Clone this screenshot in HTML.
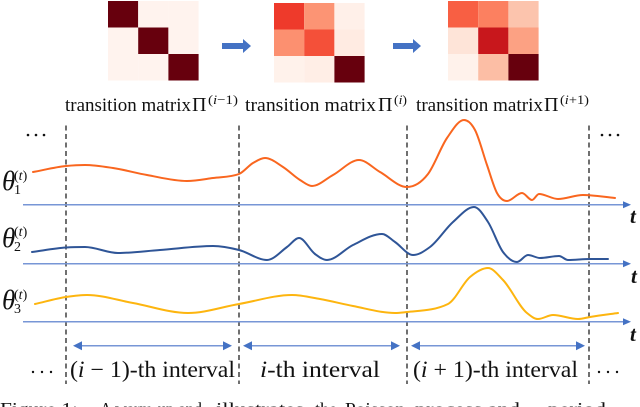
<!DOCTYPE html>
<html lang="en">
<head>
<meta charset="utf-8">
<title>Transition matrices across intervals</title>
<style>
html,body{margin:0;padding:0;background:#fff;}
#figure{display:block;width:640px;height:407px;overflow:hidden;font-family:"Liberation Serif",serif;}
text{font-family:"Liberation Serif",serif;fill:#111;}
</style>
</head>
<body>
<svg id="figure" xmlns="http://www.w3.org/2000/svg" width="640" height="407" viewBox="0 0 640 407">
  <g id="matrices"></g>

  <g fill="#4472c4">
    <polygon points="222,43 243,43 243,39 251,46 243,53 243,49 222,49"/>
    <polygon points="393,43 413,43 413,39 421,46 413,53 413,49 393,49"/>
  </g>

  <g>
    <text x="65" y="111" font-size="19" textLength="126" lengthAdjust="spacingAndGlyphs">transition matrix</text>
    <text x="192" y="111" font-size="20">Π</text>
    <text x="208" y="104" font-size="13" textLength="30" lengthAdjust="spacingAndGlyphs">(<tspan font-style="italic">i</tspan>−1)</text>
    <text x="245" y="111" font-size="19" textLength="131" lengthAdjust="spacingAndGlyphs">transition matrix</text>
    <text x="378" y="111" font-size="20">Π</text>
    <text x="394" y="104" font-size="13" textLength="13" lengthAdjust="spacingAndGlyphs">(<tspan font-style="italic">i</tspan>)</text>
    <text x="416" y="111" font-size="19" textLength="127" lengthAdjust="spacingAndGlyphs">transition matrix</text>
    <text x="544" y="111" font-size="20">Π</text>
    <text x="560" y="104" font-size="13" textLength="29" lengthAdjust="spacingAndGlyphs">(<tspan font-style="italic">i</tspan>+1)</text>
  </g>

  <g id="boundaries"></g>
  <g id="axes"></g>
  <g id="series"></g>
  <g id="spans"></g>

  <g>
    <text x="2" y="190" font-size="27" font-style="italic">θ</text>
    <text x="14" y="194" font-size="14">1</text>
    <text x="14" y="180" font-size="14">(<tspan font-style="italic">t</tspan>)</text>
    <text x="2" y="247" font-size="27" font-style="italic">θ</text>
    <text x="14" y="251" font-size="14">2</text>
    <text x="14" y="236" font-size="14">(<tspan font-style="italic">t</tspan>)</text>
    <text x="2" y="309" font-size="27" font-style="italic">θ</text>
    <text x="14" y="313" font-size="14">3</text>
    <text x="14" y="299" font-size="14">(<tspan font-style="italic">t</tspan>)</text>
  </g>

  <g>
    <text x="630" y="223" font-size="21" font-style="italic" font-weight="bold">t</text>
    <text x="631" y="283" font-size="21" font-style="italic" font-weight="bold">t</text>
    <text x="630" y="341" font-size="21" font-style="italic" font-weight="bold">t</text>
  </g>

  <g>
    <g fill="#111"><circle cx="28" cy="135" r="1.3"/><circle cx="36" cy="135" r="1.3"/><circle cx="44" cy="135" r="1.3"/></g>
    <g fill="#111"><circle cx="602" cy="135" r="1.3"/><circle cx="610" cy="135" r="1.3"/><circle cx="618" cy="135" r="1.3"/></g>
    <g fill="#111"><circle cx="33" cy="372" r="1.2"/><circle cx="42" cy="372" r="1.2"/><circle cx="51" cy="372" r="1.2"/></g>
    <g fill="#111"><circle cx="599" cy="372" r="1.2"/><circle cx="608" cy="372" r="1.2"/><circle cx="617" cy="372" r="1.2"/></g>
  </g>

  <g>
    <text x="70" y="377" font-size="23" textLength="165" lengthAdjust="spacingAndGlyphs">(<tspan font-style="italic">i</tspan> − 1)-th interval</text>
    <text x="260" y="377" font-size="23" textLength="120" lengthAdjust="spacingAndGlyphs"><tspan font-style="italic">i</tspan>-th interval</text>
    <text x="413" y="377" font-size="23" textLength="165" lengthAdjust="spacingAndGlyphs">(<tspan font-style="italic">i</tspan> + 1)-th interval</text>
  </g>

  <g>
    <text x="0" y="415" font-size="18" textLength="78" lengthAdjust="spacingAndGlyphs">Figure 1:</text>
    <text x="100" y="415" font-size="18" textLength="102" lengthAdjust="spacingAndGlyphs">A warm-up and</text>
    <text x="216" y="415" font-size="18" textLength="88" lengthAdjust="spacingAndGlyphs">illustrates</text>
    <text x="315" y="415" font-size="18" textLength="22" lengthAdjust="spacingAndGlyphs">the</text>
    <text x="345" y="415" font-size="18" textLength="60" lengthAdjust="spacingAndGlyphs">Poisson</text>
    <text x="415" y="415" font-size="18" textLength="105" lengthAdjust="spacingAndGlyphs">process and</text>
    <text x="548" y="415" font-size="18" textLength="58" lengthAdjust="spacingAndGlyphs">period</text>
  </g>
</svg>

<script>
// Heatmap values (0 to 1 on the Reds colour scale)
var matrixPrev = [[1, 0.01, 0.01], [0.01, 1, 0.01], [0.01, 0.01, 1]];
var matrixCurr = [[0.63, 0.37, 0.03], [0.38, 0.57, 0.06], [0.02, 0.04, 1]];
var matrixNext = [[0.53, 0.43, 0.22], [0.10, 0.76, 0.33], [0.02, 0.24, 1]];

// Time-series readings (time in tenths of the figure scale, value above each axis)
var timesTheta1 = [3.3, 6.6, 8.5, 11.3, 14.7, 18.7, 21.3, 23.9, 25.3, 26.5, 28.3, 30.0, 31.2, 33.3, 35.9, 38.0, 40.7, 42.8, 44.7, 46.4, 47.5, 48.7, 49.7, 50.7, 52.2, 53.2, 53.9, 55.8, 58.3, 61.5];
var valuesTheta1 = [3.3, 3.9, 4.0, 3.7, 3.0, 2.4, 2.7, 3.1, 4.2, 4.7, 3.8, 2.5, 1.9, 3.0, 4.5, 3.3, 1.8, 3.1, 6.7, 8.5, 7.5, 4.0, 1.2, 0.4, 1.2, 0.5, 1.1, 0.6, 1.0, 0.7];
var timesTheta2 = [3.2, 6.6, 8.5, 11.8, 16.0, 21.3, 23.9, 26.7, 28.7, 29.9, 31.5, 32.7, 35.3, 38.2, 39.5, 41.3, 43.0, 45.3, 47.4, 48.8, 50.3, 51.7, 52.8, 54.0, 55.9, 56.8, 59.0, 60.8];
var valuesTheta2 = [1.2, 1.65, 1.7, 1.1, 1.4, 1.8, 1.4, 0.4, 1.7, 2.6, 1.0, 0.4, 1.9, 3.0, 2.2, 0.9, 1.7, 4.2, 5.7, 4.2, 1.2, 0.2, 0.9, 0.6, 0.8, 0.4, 0.5, 0.5];
var timesTheta3 = [3.5, 6.6, 8.7, 13.3, 18.8, 23.9, 29.2, 32.0, 35.3, 39.5, 40.7, 44.8, 47.0, 48.8, 50.3, 52.7, 53.8, 55.3, 57.8, 59.0, 61.8];
var valuesTheta3 = [1.8, 2.5, 2.7, 1.9, 0.9, 1.8, 2.7, 2.3, 1.6, 0.9, 1.0, 1.8, 4.5, 5.4, 4.2, 0.9, 0.3, 0.7, 0.3, 0.5, 0.9];

// Interval boundaries on the same time scale
var intervalBoundaries = [6.6, 23.9, 40.7, 58.9];

var SVG_NS = 'http://www.w3.org/2000/svg';
var REDS = [[255,245,240],[254,224,210],[252,187,161],[252,146,114],[251,106,74],[239,59,44],[203,24,29],[165,15,21],[103,0,13]];

function xScale(t) { return t * 10; }
function yScale(v, baseline) { return baseline - v * 10; }

function redColor(v) {
  var p = Math.max(0, Math.min(1, v)) * (REDS.length - 1);
  var i = Math.min(REDS.length - 2, Math.floor(p));
  var f = p - i;
  var c = [0, 1, 2].map(function (k) { return Math.round(REDS[i][k] + (REDS[i + 1][k] - REDS[i][k]) * f); });
  return 'rgb(' + c.join(',') + ')';
}

function make(tag, attrs, parent) {
  var el = document.createElementNS(SVG_NS, tag);
  Object.keys(attrs).forEach(function (k) { el.setAttribute(k, attrs[k]); });
  parent.appendChild(el);
  return el;
}

// Monotone cubic path: flat tangents at peaks and troughs keep them rounded.
function smoothPath(pts) {
  var n = pts.length, slopes = [], m = [], i;
  for (i = 0; i < n - 1; i++) slopes.push((pts[i + 1][1] - pts[i][1]) / (pts[i + 1][0] - pts[i][0]));
  m[0] = slopes[0];
  m[n - 1] = slopes[n - 2];
  for (i = 1; i < n - 1; i++) {
    if (slopes[i - 1] * slopes[i] <= 0) { m[i] = 0; continue; }
    var h0 = pts[i][0] - pts[i - 1][0], h1 = pts[i + 1][0] - pts[i][0];
    var est = (slopes[i - 1] * h1 + slopes[i] * h0) / (h0 + h1);
    var lim = 2.5 * Math.min(Math.abs(slopes[i - 1]), Math.abs(slopes[i]));
    m[i] = Math.sign(est) * Math.min(Math.abs(est), lim);
  }
  var d = 'M' + pts[0][0].toFixed(1) + ' ' + pts[0][1].toFixed(1);
  for (i = 0; i < n - 1; i++) {
    var h = (pts[i + 1][0] - pts[i][0]) / 3;
    d += 'C' + (pts[i][0] + h).toFixed(1) + ' ' + (pts[i][1] + m[i] * h).toFixed(1) + ' ' +
      (pts[i + 1][0] - h).toFixed(1) + ' ' + (pts[i + 1][1] - m[i + 1] * h).toFixed(1) + ' ' +
      pts[i + 1][0].toFixed(1) + ' ' + pts[i + 1][1].toFixed(1);
  }
  return d;
}

function drawMatrix(values, left, top) {
  var group = document.getElementById('matrices');
  var cw = 30.2, ch = 26.5;
  values.forEach(function (row, r) {
    row.forEach(function (v, c) {
      var cell = make('rect', { x: left + c * cw, y: top + r * ch, width: cw, height: ch, fill: redColor(v) }, group);
      
      
    });
  });
}
drawMatrix(matrixPrev, 108, 1);
drawMatrix(matrixCurr, 274, 3);
drawMatrix(matrixNext, 448, 1);

intervalBoundaries.forEach(function (t) {
  var line = make('line', { x1: xScale(t), x2: xScale(t), y1: 125.5, y2: 384, stroke: '#222', 'stroke-width': 1.3, 'stroke-dasharray': '5 3.5' }, document.getElementById('boundaries'));
  
  
});

[204.7, 263.7, 321.7].forEach(function (y) {
  var axes = document.getElementById('axes');
  var line = make('line', { x1: 23, x2: 624, y1: y, y2: y, stroke: '#7796d6', 'stroke-width': 1.5 }, axes);
  
  
  var head = make('polygon', { points: '623,' + (y - 3.5) + ' 631,' + y + ' 623,' + (y + 3.5), fill: '#4472c4' }, axes);
  
  
});

function drawSeries(times, values, baseline, color, name) {
  var pts = times.map(function (t, i) { return [xScale(t), yScale(values[i], baseline)]; });
  var path = make('path', { d: smoothPath(pts), fill: 'none', stroke: color, 'stroke-width': 2, 'stroke-linejoin': 'round', 'stroke-linecap': 'round' }, document.getElementById('series'));
  
  
}
drawSeries(timesTheta1, valuesTheta1, 205, '#f9661f', 'theta-1-line');
drawSeries(timesTheta2, valuesTheta2, 264, '#2f5597', 'theta-2-line');
drawSeries(timesTheta3, valuesTheta3, 322, '#fdb50f', 'theta-3-line');

intervalBoundaries.slice(0, -1).forEach(function (t, i) {
  var spans = document.getElementById('spans');
  var y = 345.7;
  var a = xScale(t) + (i === 0 ? 7 : 4);
  var b = xScale(intervalBoundaries[i + 1]) - (i === 2 ? 4 : 7);
  var line = make('line', { x1: a + 6, x2: b - 6, y1: y, y2: y, stroke: '#7796d6', 'stroke-width': 1.5 }, spans);
  
  
  var left = make('polygon', { points: a + ',' + y + ' ' + (a + 9) + ',' + (y - 4.5) + ' ' + (a + 9) + ',' + (y + 4.5), fill: '#4472c4' }, spans);
  
  
  var right = make('polygon', { points: b + ',' + y + ' ' + (b - 9) + ',' + (y - 4.5) + ' ' + (b - 9) + ',' + (y + 4.5), fill: '#4472c4' }, spans);
  
  
});
</script>
</body>
</html>
